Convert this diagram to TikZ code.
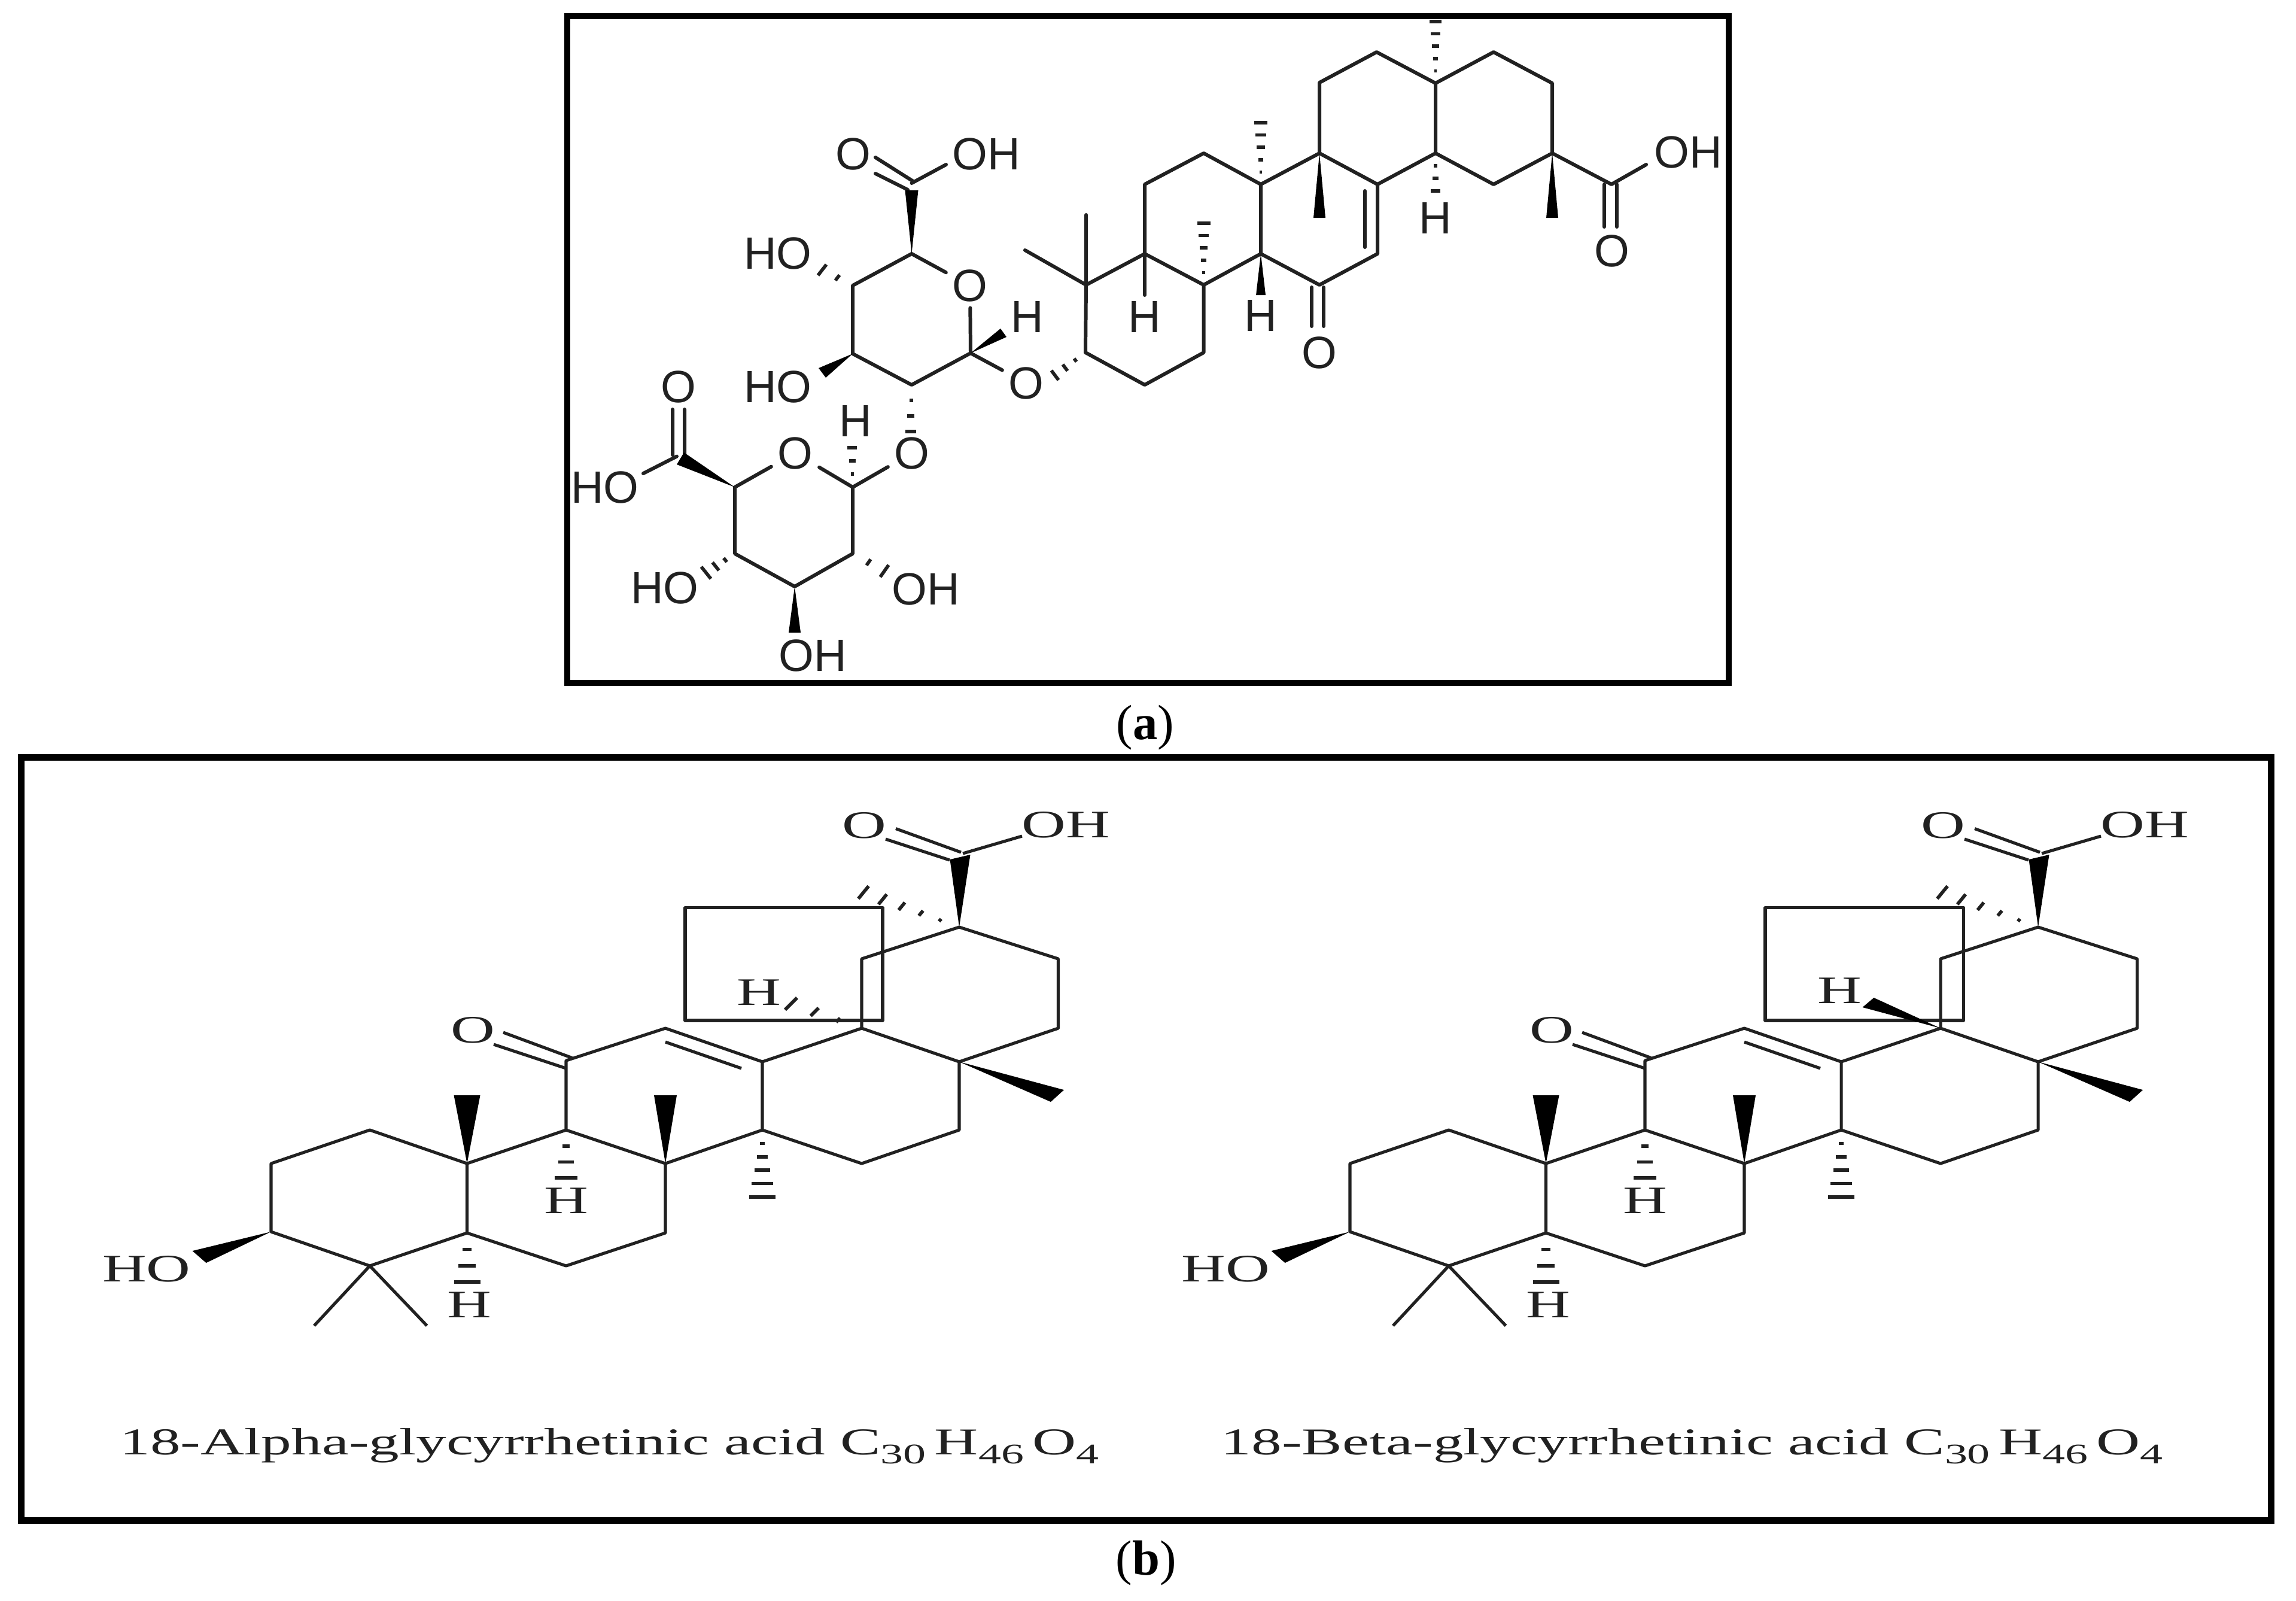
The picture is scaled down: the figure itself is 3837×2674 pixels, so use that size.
\documentclass[tikz,border=0pt]{standalone}
\usepackage{fontspec}
\usepackage{graphicx}
\setmainfont{Liberation Serif}
\setsansfont{Liberation Sans}
\usetikzlibrary{calc}
\definecolor{ink}{gray}{0.13}
\newcommand\bT[1]{\scalebox{1.57}[1]{#1}}
\newcommand\cpsub[1]{\raisebox{-4.3pt}{\fontsize{13.5}{16}\selectfont #1}}
\newcommand\formula{C\cpsub{30}\hspace{2.5pt}H\cpsub{46}\hspace{2.5pt}O\cpsub{4}}
\newcommand\hashb[5]{% A, B, number of marks, half stroke at the far end
  \foreach \i in {1,...,#3}{
    \pgfmathsetmacro\tt{\i/#3}
    \draw[hashline] ($(#1)!\tt!(#2)+(\tt*#4,\tt*#5)$) -- ($(#1)!\tt!(#2)-(\tt*#4,\tt*#5)$);
  }}
\newcommand\wedgeb[4]{\fill[black] (#1) -- ($(#2)+(#3,#4)$) -- ($(#2)-(#3,#4)$) -- cycle;}
\newcommand\glyc[2]{%
\begin{scope}[shift={(#2,0)}]
 \coordinate (#1a) at (453,1944);
 \coordinate (#1b) at (618,1888);
 \coordinate (#1c) at (780.5,1944);
 \coordinate (#1d) at (780.5,2060);
 \coordinate (#1e) at (618,2115);
 \coordinate (#1f) at (453,2058);
 \coordinate (#1g) at (946,1888);
 \coordinate (#1h) at (1112,1944);
 \coordinate (#1i) at (1112,2060);
 \coordinate (#1j) at (946,2115);
 \coordinate (#1k) at (946,1772);
 \coordinate (#1l) at (1112,1718);
 \coordinate (#1m) at (1274,1774);
 \coordinate (#1n) at (1274,1888);
 \coordinate (#1o) at (1440,1718);
 \coordinate (#1p) at (1603,1774);
 \coordinate (#1q) at (1603,1888);
 \coordinate (#1r) at (1440,1944);
 \coordinate (#1s) at (1440,1602);
 \coordinate (#1t) at (1603,1549);
 \coordinate (#1u) at (1768.5,1602);
 \coordinate (#1v) at (1768.5,1718);
 \coordinate (#1w) at (1609,1426);
 \coordinate (#1me1) at (525,2215);
 \coordinate (#1me2) at (713.5,2215);
 \coordinate (#1hoe) at (333,2100);
 \coordinate (#1wa) at (780.5,1830);
 \coordinate (#1wb) at (1112,1830);
 \coordinate (#1wc) at (1767,1831);
 \coordinate (#1wd) at (1604.5,1432);
 \coordinate (#1ha) at (780.5,2142);
 \coordinate (#1hb) at (946,1968);
 \coordinate (#1hc) at (1274,2000);
 \coordinate (#1hd) at (1443,1491);
 \coordinate (#1d1a) at (841,1725);
 \coordinate (#1d1b) at (956,1767.5);
 \coordinate (#1d2a) at (825,1745);
 \coordinate (#1d2b) at (946,1785);
 \coordinate (#1d3a) at (1112,1741);
 \coordinate (#1d3b) at (1239,1785);
 \coordinate (#1d4a) at (1497,1384.5);
 \coordinate (#1d4b) at (1606,1424);
 \coordinate (#1d5a) at (1480,1402);
 \coordinate (#1d5b) at (1587,1437);
 \coordinate (#1ohe) at (1708,1397);
 \node[lb] (#1nO) at (790,1721) {\bT{O}};
 \node[lb] (#1nHO) at (245,2120) {\bT{HO}};
 \node[lb] (#1nHa) at (784,2180) {\bT{H}};
 \node[lb] (#1nHb) at (946,2006) {\bT{H}};
 \node[lb] (#1nOt) at (1444.5,1379) {\bT{O}};
 \node[lb] (#1nOH) at (1781,1378) {\bT{OH}};
 \draw[bondb] (#1a) -- (#1b) -- (#1c) -- (#1d) -- (#1e) -- (#1f) -- cycle;
 \draw[bondb] (#1c) -- (#1g) -- (#1h) -- (#1i) -- (#1j) -- (#1d);
 \draw[bondb] (#1g) -- (#1k) -- (#1l) -- (#1m) -- (#1n) -- (#1h);
 \draw[bondb] (#1m) -- (#1o) -- (#1p) -- (#1q) -- (#1r) -- (#1n);
 \draw[bondb] (#1o) -- (#1s) -- (#1t) -- (#1u) -- (#1v) -- (#1p);
 \draw[bondb] (#1e) -- (#1me1) (#1e) -- (#1me2);
 \draw[bondb] (#1d1a) -- (#1d1b) (#1d2a) -- (#1d2b) (#1d3a) -- (#1d3b);
 \draw[bondb] (#1d4a) -- (#1d4b) (#1d5a) -- (#1d5b) (#1w) -- (#1ohe);
 \wedgeb{#1f}{#1hoe}{11.5}{10}
 \wedgeb{#1c}{#1wa}{22}{0}
 \wedgeb{#1h}{#1wb}{19}{0}
 \wedgeb{#1p}{#1wc}{11}{-10}
 \wedgeb{#1t}{#1wd}{17}{-4}
 \hashb{#1d}{#1ha}{3}{22}{0}
 \hashb{#1g}{#1hb}{3}{19}{0}
 \hashb{#1n}{#1hc}{5}{22}{0}
 \hashb{#1t}{#1hd}{5}{8.6}{-10.5}
\end{scope}}
\tikzset{
 x=0.01cm,y=-0.01cm,
 frameline/.style={draw=black,line width=3.1pt},
 bonda/.style={draw=ink,line width=1.7pt,line join=round,line cap=round},
 bondb/.style={draw=ink,line width=1.45pt,line join=round},
 hashline/.style={draw=ink,line width=1.6pt},
 la/.style={font=\fontsize{21.5}{25}\selectfont\sffamily,text=ink,inner sep=0.10cm},
 lb/.style={font=\fontsize{18.5}{22}\selectfont,text=ink,inner sep=0.08cm},
 capt/.style={font=\fontsize{23.5}{28}\selectfont,text=black,inner sep=0pt},
 capb/.style={font=\fontsize{18}{22}\selectfont,text=ink,inner sep=0pt,anchor=base west},
}
\begin{document}
\begin{tikzpicture}
\path[use as bounding box,fill=white] (0,0) rectangle (3837,2674);
\draw[frameline] (948,27) rectangle (2889,1141);
\draw[frameline] (35.3,1265.3) rectangle (3795.5,2540);
\node[capt] (capA) at (1914,1216) {(\textbf{a})};
\node[capt] (capB) at (1915,2612) {(\textbf{b})};
% ---------- panel a: upper sugar
\coordinate (u1) at (1523.5,424);
\coordinate (u5) at (1622,590);
\coordinate (u4) at (1523.5,643);
\coordinate (u3) at (1425,591);
\coordinate (u2) at (1425,477);
\coordinate (uc) at (1523.5,306);
\coordinate (ucw) at (1523.5,318);
\coordinate (uohe) at (1581,275);
\coordinate (ud1a) at (1463,263);
\coordinate (ud1b) at (1527,303.5);
\coordinate (ud2a) at (1463,290);
\coordinate (ud2b) at (1517,317);
\coordinate (uh2) at (1374,451);
\coordinate (uw3) at (1374,623);
\coordinate (uwh) at (1677,556);
\node[la] (uO) at (1621,477) {O};
\node[la] (uOd) at (1426,257.5) {O};
\node[la] (uOH) at (1648,257.5) {OH};
\node[la] (uHO1) at (1300,423) {HO};
\node[la] (uHO2) at (1300,646) {HO};
\node[la] (uH) at (1717,529) {H};
\node[la] (lnk) at (1715,640) {O};
\draw[bonda] (u1) -- (uO) -- (u5) -- (u4) -- (u3) -- (u2) -- (u1);
\draw[bonda] (u5) -- (lnk);
\draw[bonda] (uc) -- (uohe) (ud1a) -- (ud1b) (ud2a) -- (ud2b);
\wedgeb{u1}{ucw}{11}{0}
\wedgeb{u3}{uw3}{6}{8}
\wedgeb{u5}{uwh}{5}{7}
\hashb{u2}{uh2}{2}{7}{-9}
% ---------- panel a: lower sugar
\coordinate (l1) at (1228,814);
\coordinate (l5) at (1425,814);
\coordinate (l4) at (1425,925);
\coordinate (l3) at (1328,980);
\coordinate (l2) at (1228,925);
\coordinate (lc) at (1131,762.5);
\coordinate (lcw) at (1137,766);
\coordinate (lohe) at (1075,791);
\coordinate (ld1a) at (1124,684);
\coordinate (ld1b) at (1124,760);
\coordinate (ld2a) at (1144,684);
\coordinate (ld2b) at (1144,765);
\coordinate (lh5) at (1424,748);
\coordinate (lh4) at (1478,954);
\coordinate (lh2) at (1180,957);
\coordinate (lw3) at (1328,1057);
\coordinate (uhe) at (1521.6,721);
\node[la] (lO) at (1329,757) {O};
\node[la] (lOd) at (1134,646.4) {O};
\node[la] (lHO) at (1011,814) {HO};
\node[la] (lH) at (1430,703.6) {H};
\node[la] (lnkb) at (1524,757) {O};
\node[la] (lHOa) at (1111,982) {HO};
\node[la] (lOHa) at (1547,984) {OH};
\node[la] (lOHb) at (1358,1095) {OH};
\draw[bonda] (l1) -- (lO) -- (l5) -- (l4) -- (l3) -- (l2) -- (l1);
\draw[bonda] (l5) -- (lnkb);
\draw[bonda] (lc) -- (lohe) (ld1a) -- (ld1b) (ld2a) -- (ld2b);
\wedgeb{l1}{lcw}{6}{-10}
\wedgeb{l3}{lw3}{10}{0}
\hashb{u4}{uhe}{3}{9}{0}
\hashb{l5}{lh5}{3}{8}{0}
\hashb{l4}{lh4}{2}{7}{-10}
\hashb{l2}{lh2}{3}{8}{10}
% ---------- panel a: aglycone
\coordinate (c3) at (1814,589);
\coordinate (c4) at (1815,476);
\coordinate (cme1) at (1815,359);
\coordinate (cme2) at (1713,418);
\coordinate (c5) at (1913,424);
\coordinate (c10) at (1913,308);
\coordinate (c1) at (2011.6,256);
\coordinate (c2) at (2107,308);
\coordinate (c8) at (2107,424);
\coordinate (c7) at (2011.6,476);
\coordinate (c6) at (2011.6,589);
\coordinate (c0) at (1913,643);
\coordinate (d1) at (2205,256);
\coordinate (d2) at (2302,308);
\coordinate (d3) at (2302,424);
\coordinate (d4) at (2205,476);
\coordinate (e1) at (2205,138);
\coordinate (e2) at (2300.5,87);
\coordinate (e3) at (2399,139);
\coordinate (e4) at (2399,256);
\coordinate (f1) at (2496,87);
\coordinate (f2) at (2594,139);
\coordinate (f3) at (2594,256);
\coordinate (f4) at (2496,308);
\coordinate (gc) at (2693,308);
\coordinate (goe) at (2751,275);
\coordinate (gd1a) at (2681,308);
\coordinate (gd1b) at (2681,379);
\coordinate (gd2a) at (2702,308);
\coordinate (gd2b) at (2702,379);
\coordinate (cdi1) at (2281,319);
\coordinate (cdi2) at (2281,413);
\coordinate (kd1a) at (2192,480);
\coordinate (kd1b) at (2192,545);
\coordinate (kd2a) at (2212,480);
\coordinate (kd2b) at (2212,545);
\coordinate (hc5) at (1913,493);
\coordinate (hc7) at (2011.6,373);
\coordinate (hc2) at (2107,205);
\coordinate (hc8) at (2107,493);
\coordinate (wd1) at (2205,364);
\coordinate (he3) at (2399,36);
\coordinate (he4) at (2399,319);
\coordinate (wf3) at (2594,364);
\coordinate (hlnk) at (1763,627);
\node[la] (aH1) at (1913,529) {H};
\node[la] (aH2) at (2107,527) {H};
\node[la] (aH3) at (2399,364) {H};
\node[la] (aOk) at (2205,589) {O};
\node[la] (aOd) at (2694,419.6) {O};
\node[la] (aOH) at (2821.5,254) {OH};
\draw[bonda] (c3) -- (c4) -- (c5) -- (c7) -- (c6) -- (c0) -- (c3);
\draw[bonda] (c4) -- (cme1) (c4) -- (cme2);
\draw[bonda] (c5) -- (c10) -- (c1) -- (c2) -- (c8) -- (c7);
\draw[bonda] (c5) -- (hc5);
\draw[bonda] (c2) -- (d1) -- (d2) -- (d3) -- (d4) -- (c8);
\draw[bonda] (d1) -- (e1) -- (e2) -- (e3) -- (e4) -- (d2);
\draw[bonda] (e3) -- (f1) -- (f2) -- (f3) -- (f4) -- (e4);
\draw[bonda] (f3) -- (gc) -- (goe);
\draw[bonda] (gd1a) -- (gd1b) (gd2a) -- (gd2b);
\draw[bonda] (cdi1) -- (cdi2);
\draw[bonda] (kd1a) -- (kd1b) (kd2a) -- (kd2b);
\wedgeb{d1}{wd1}{10}{0}
\wedgeb{f3}{wf3}{10}{0}
\wedgeb{c8}{hc8}{8}{0}
\hashb{c7}{hc7}{5}{11}{0}
\hashb{c2}{hc2}{5}{11}{0}
\hashb{e3}{he3}{5}{10}{0}
\hashb{e4}{he4}{3}{8}{0}
\hashb{c3}{hlnk}{3}{6}{8}
% ---------- panel b
\glyc{p}{0}
\glyc{q}{1803}
\draw[bondb] (1145,1516.6) rectangle (1475,1705);
\draw[bondb] (2950,1516.6) rectangle (3281.5,1705);
\coordinate (pH18) at (1322,1677);
\coordinate (qH18) at (3122,1675);
\node[lb] (pnH) at (1268,1658) {\bT{H}};
\node[lb] (qnH) at (3074,1655) {\bT{H}};
\hashb{po}{pH18}{3}{10}{-10}
\wedgeb{qo}{qH18}{9.5}{-8}
\node[capb] (capAlpha) at (200,2430) {\scalebox{1.6}[1]{18-Alpha-glycyrrhetinic acid \formula}};
\node[capb] (capBeta) at (2040,2430) {\scalebox{1.6}[1]{18-Beta-glycyrrhetinic acid \formula}};
\end{tikzpicture}
\end{document}
